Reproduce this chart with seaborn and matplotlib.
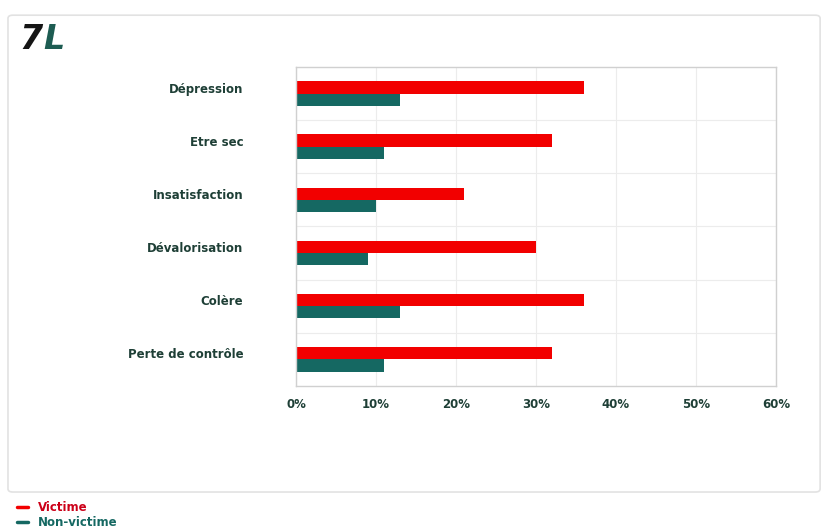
import matplotlib
matplotlib.use("Agg")
import matplotlib.pyplot as plt
import matplotlib.transforms as mtransforms
from matplotlib.patches import FancyBboxPatch
from matplotlib.lines import Line2D
import seaborn as sns
import pandas as pd

categories = ["Dépression", "Etre sec", "Insatisfaction", "Dévalorisation", "Colère", "Perte de contrôle"]
victime = [36, 32, 21, 30, 36, 32]
non_victime = [13, 11, 10, 9, 13, 11]
series = ["Victime", "Non-victime"]
x_ticks = [0, 10, 20, 30, 40, 50, 60]

RED = "#f20000"
TEAL = "#156862"
LABEL = "#1e3f36"

df = pd.DataFrame({
    "categorie": categories * 2,
    "valeur": victime + non_victime,
    "groupe": [series[0]] * len(categories) + [series[1]] * len(categories),
})

sns.set_theme(style="white")
plt.rcParams["font.family"] = ["DejaVu Sans"]

fig = plt.figure(figsize=(8.22, 5.31), dpi=100)
fig.patch.set_facecolor("white")

# rounded panel behind the chart
panel = FancyBboxPatch((0.0097, 0.0734), 0.988, 0.898,
                       boxstyle="round,pad=0,rounding_size=0.006",
                       transform=fig.transFigure, facecolor="white",
                       edgecolor="#e2e2e2", linewidth=1.2, zorder=-5)
fig.patches.append(panel)

ax = fig.add_axes([0.3601, 0.2731, 0.5839, 0.6008])
ax.set_zorder(2)
ax.set_facecolor("white")
sns.barplot(data=df, y="categorie", x="valeur", hue="groupe", orient="h",
            palette=[RED, TEAL], width=0.46, saturation=1, linewidth=0,
            ax=ax, legend=False)

ax.set_xlim(0, 60)
ax.set_ylim(len(categories) - 0.5, -0.5)
ax.set_xticks(x_ticks)
ax.set_xticklabels([f"{v}%" for v in x_ticks])
ax.set_xlabel("")
ax.set_ylabel("")

# faint grid: vertical at ticks, horizontal between categories
ax.set_yticks([i + 0.5 for i in range(len(categories) - 1)], minor=True)
ax.grid(axis="x", color="#ececec", linewidth=0.8)
ax.grid(axis="y", which="minor", color="#ececec", linewidth=0.8)
ax.set_axisbelow(True)
ax.tick_params(axis="y", which="minor", length=3, color="#dddddd", direction="in")

for s in ax.spines.values():
    s.set_color("#d0d0d0")
    s.set_linewidth(1.0)

ax.tick_params(axis="y", which="major", length=0, pad=38)
ax.tick_params(axis="x", length=4, color="#d0d0d0", direction="in", pad=9)
for t in ax.get_yticklabels():
    t.set_fontsize(8.5)
    t.set_fontweight("bold")
    t.set_color(LABEL)
    t.set_transform(t.get_transform() + mtransforms.ScaledTranslation(0, 6 / 100, fig.dpi_scale_trans))
for t in ax.get_xticklabels():
    t.set_fontsize(8.5)
    t.set_fontweight("bold")
    t.set_color(LABEL)

# logo
fig.text(0.024, 0.925, "7", fontsize=24, fontweight="bold", style="italic",
         color="#151515", va="center", ha="left")
fig.text(0.053, 0.925, "L", fontsize=24, fontweight="bold", style="italic",
         color="#1d5c52", va="center", ha="left")

# legend under the panel
handles = [Line2D([0], [0], color=RED, lw=2.5), Line2D([0], [0], color=TEAL, lw=2.5)]
leg = fig.legend(handles, series, loc="upper left", bbox_to_anchor=(0.015, 0.065),
                 frameon=False, handlelength=0.9, handletextpad=0.9,
                 labelspacing=0.15, prop={"weight": "bold", "size": 8.5},
                 labelcolor=["#cc0018", TEAL], borderaxespad=0)

fig.savefig("out.png", dpi=100, facecolor="white")
